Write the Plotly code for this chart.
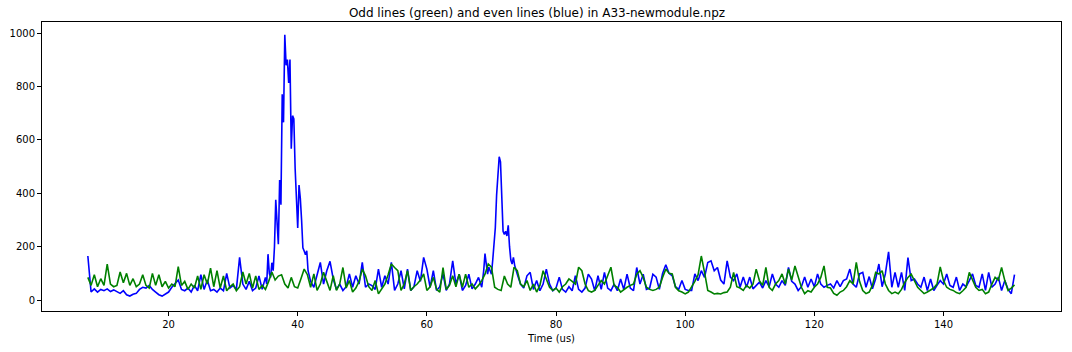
import numpy as np
import plotly.graph_objects as go

# ---------------- data ----------------
# Odd lines (green): sampled every 0.5 us from 7.5 to 151.0
green_start, green_step = 7.5, 0.5
green_values = [
    85, 55, 95, 50, 80, 55, 135, 60, 50, 55,
    105, 65, 100, 55, 80, 50, 60, 95, 55, 45,
    100, 55, 95, 50, 70, 45, 60, 50, 125, 55,
    70, 40, 60, 45, 90, 40, 95, 60, 120, 50,
    110, 45, 90, 35, 50, 60, 35, 50, 105, 60,
    100, 45, 90, 40, 55, 40, 70, 105, 75, 90,
    95, 60, 45, 85, 50, 45, 80, 116, 95, 48,
    98, 36, 60, 104, 70, 36, 91, 36, 60, 122,
    45, 73, 30, 45, 70, 116, 91, 50, 36, 73,
    23, 40, 60, 95, 135, 122, 110, 36, 60, 110,
    36, 50, 60, 75, 98, 36, 50, 85, 40, 30,
    122, 40, 55, 91, 50, 97, 48, 97, 48, 60,
    42, 55, 73, 97, 135, 123, 48, 40, 36, 90,
    60, 48, 123, 110, 60, 50, 73, 36, 60, 30,
    55, 110, 79, 48, 36, 45, 30, 50, 60, 79,
    70, 60, 123, 110, 60, 35, 30, 36, 55, 73,
    60, 90, 123, 55, 48, 30, 40, 48, 55, 60,
    97, 110, 85, 48, 40, 36, 40, 48, 85, 116,
    100, 98, 48, 35, 30, 23, 30, 48, 70, 95,
    165, 104, 36, 30, 23, 25, 23, 28, 30, 48,
    104, 50, 45, 36, 55, 45, 60, 116, 73, 55,
    122, 48, 36, 60, 73, 98, 60, 116, 75, 128,
    90, 48, 24, 35, 30, 48, 60, 85, 128, 48,
    45, 25, 18, 30, 36, 50, 73, 60, 141, 70,
    36, 24, 30, 55, 104, 98, 110, 60, 36, 24,
    30, 24, 40, 66, 85, 97, 73, 48, 36, 24,
    30, 36, 45, 60, 124, 73, 48, 40, 36, 28,
    24, 35, 48, 104, 73, 48, 36, 40, 24, 30,
    60, 85, 75, 122, 73, 36, 45, 57,
]

# Even lines (blue): segments (start, step, values); finer sampling on the peaks
blue_seg1_start, blue_seg1_step = 7.5, 0.5
blue_seg1 = [
    165, 30, 42, 30, 40, 35, 42, 32, 38, 30,
    25, 35, 20, 15, 22, 25, 40, 48, 45, 55,
    40, 30, 20, 15, 22, 30, 48, 60, 75, 40,
    35, 45, 30, 55, 35, 95, 40, 75, 35, 40,
    30, 45, 35, 100, 45, 55, 40, 160, 60, 40,
    70, 35, 45, 90, 40, 85,
]
blue_peak1_start, blue_peak1_step = 35.2, 0.2
blue_peak1 = [
    60, 172, 100, 85, 140, 110, 200, 376, 300, 209,
    450, 357, 771, 666, 994, 880, 901, 814, 901, 567,
    691, 679, 493, 350, 270, 431, 382, 300, 196, 184,
    170, 185, 110, 90, 70,
]
blue_seg2_start, blue_seg2_step = 42.5, 0.5
blue_seg2 = [
    48, 100, 141, 60, 110, 145, 79, 40, 60, 36,
    50, 98, 48, 91, 60, 141, 48, 60, 54, 40,
    116, 48, 91, 60, 141, 36, 60, 110, 42, 116,
    36, 50, 110, 70, 160, 116, 48, 110, 36, 50,
    98, 36, 60, 147, 60, 97, 36, 55, 97, 42,
    60, 85, 48,
]
blue_peak2_start, blue_peak2_step = 68.8, 0.2
blue_peak2 = [
    110, 174, 135, 97, 123, 110, 97, 150, 197, 271,
    394, 470, 537, 518, 394, 258, 246, 258, 240, 280,
    200, 150, 135, 160, 130, 111, 97,
]
blue_seg3_start, blue_seg3_step = 74.5, 0.5
blue_seg3 = [
    60, 45, 91, 104, 40, 73, 35, 60, 116, 60,
    35, 45, 86, 40, 30, 50, 35, 91, 40, 30,
    45, 97, 79, 35, 91, 40, 104, 45, 35, 60,
    35, 79, 40, 97, 45, 35, 122, 60, 97, 40,
    45, 97, 86, 40, 100, 132, 100, 91, 50, 40,
    73, 40, 36, 36, 98, 73, 110, 85, 141, 147,
    110, 122, 75, 60, 147, 86, 73, 98, 48, 86,
    48, 86, 42, 55, 67, 45, 73, 50, 98, 60,
    48, 73, 55, 122, 70, 60, 36, 50, 86, 48,
    79, 50, 98, 60, 48, 55, 60, 45, 73, 50,
    73, 79, 116, 60, 48, 98, 104, 48, 88, 42,
    80, 135, 50, 98, 181, 48, 104, 48, 104, 36,
    159, 73, 79, 60, 48, 86, 36, 79, 36, 55,
    73, 60, 98, 55, 48, 86, 36, 60, 50, 73,
    98, 55, 48, 98, 36, 104, 48, 60, 86, 36,
    73, 40, 24, 95,
]

x_ticks = [20, 40, 60, 80, 100, 120, 140]
y_ticks = [0, 200, 400, 600, 800, 1000]
title_text = "Odd lines (green) and even lines (blue) in A33-newmodule.npz"
x_label = "Time (us)"

# ---------------- build time axes ----------------
def times(start, step, vals):
    return [round(start + step * i, 3) for i in range(len(vals))]

green_t = times(green_start, green_step, green_values)
blue_t = (times(blue_seg1_start, blue_seg1_step, blue_seg1)
          + times(blue_peak1_start, blue_peak1_step, blue_peak1)
          + times(blue_seg2_start, blue_seg2_step, blue_seg2)
          + times(blue_peak2_start, blue_peak2_step, blue_peak2)
          + times(blue_seg3_start, blue_seg3_step, blue_seg3))
blue_v = blue_seg1 + blue_peak1 + blue_seg2 + blue_peak2 + blue_seg3

fig = go.Figure()
fig.add_trace(go.Scatter(x=blue_t, y=blue_v, mode="lines",
                         line=dict(color="#0000ff", width=1.6), showlegend=False))
fig.add_trace(go.Scatter(x=green_t, y=green_values, mode="lines",
                         line=dict(color="#008000", width=1.6), showlegend=False))

font = "DejaVu Sans, Arial, sans-serif"
axis_common = dict(showline=True, linecolor="black", linewidth=1, mirror=True,
                   showgrid=False, zeroline=False, ticks="outside", ticklen=4,
                   tickcolor="black", tickwidth=1,
                   tickfont=dict(family=font, size=10, color="black"))

fig.update_layout(
    width=1072, height=352,
    margin=dict(l=40, r=10, t=22, b=38),
    paper_bgcolor="white", plot_bgcolor="white",
    title=dict(text=title_text, x=537 / 1072, xanchor="center",
               y=1 - 12.5 / 352, yanchor="middle",
               font=dict(family=font, size=12, color="black")),
)
fig.update_xaxes(range=[0.4, 158.2], tickvals=x_ticks,
                 title=dict(text=x_label, font=dict(family=font, size=10, color="black"),
                            standoff=5),
                 **axis_common)
fig.update_yaxes(range=[-41, 1042], tickvals=y_ticks, **axis_common)

fig.write_html("out.html")
